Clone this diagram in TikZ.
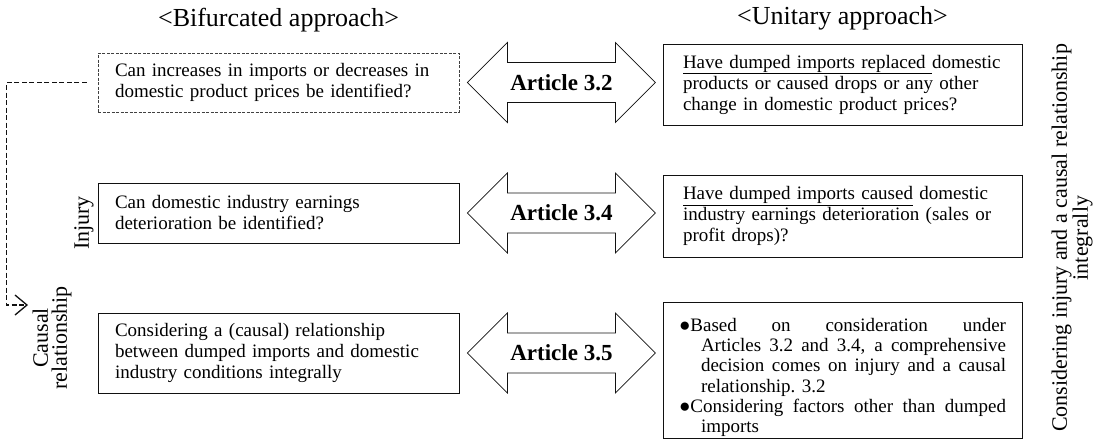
\documentclass[tikz,border=0pt]{standalone}
\usepackage{fontspec}
\setmainfont{Liberation Serif}
\usetikzlibrary{arrows.meta,positioning,calc}
\definecolor{Ink}{HTML}{111111}

\tikzset{
  dblarrow/.pic={
    \draw[line width=0.8pt, draw=Ink, fill=white] (-94,0) -- (-54,-40) -- (-54,-20) -- (54,-20) -- (54,-40)
      -- (94,0) -- (54,40) -- (54,20) -- (-54,20) -- (-54,40) -- cycle;
  }
}

\begin{document}
\begin{tikzpicture}[
    x=1pt, y=-1pt,
    qbox/.style={draw=Ink, line width=0.8pt, text width=327pt, inner xsep=17pt, align=left, font=\fontsize{19}{21}\selectfont},
    ubox/.style={draw=Ink, line width=0.8pt, text width=319pt, inner xsep=20pt, align=left, font=\fontsize{19}{21}\selectfont},
    title/.style={font=\fontsize{26}{28}\selectfont},
    tag/.style={rotate=90, align=center, font=\fontsize{22}{19}\selectfont},
    artlabel/.style={font=\bfseries\fontsize{23}{24}\selectfont},
    link/.style={dash pattern=on 5pt off 2.5pt, line width=1.3pt, draw=Ink, -{Straight Barb[length=12pt,width=20pt,line width=1.3pt]}}
  ]
    \useasboundingbox (0,0) rectangle (1103,440);

    % headings
    \node[title] (t1) at (278.5,20) {<Bifurcated approach>};
    \node[title] (t2) at (842.5,18) {<Unitary approach>};

    % bifurcated column
    \node[qbox, dash pattern=on 3pt off 1.5pt, draw=Ink!80, minimum height=59pt] (q1) at (278.5,82.5)
      {Can increases in imports or decreases in\\domestic product prices be identified?};
    \node[qbox, minimum height=60pt] (q2) at (278.5,213)
      {Can domestic industry earnings\\deterioration be identified?};
    \node[qbox, minimum height=80pt] (q3) at (278.5,353)
      {Considering a (causal) relationship\\between dumped imports and domestic\\industry conditions integrally};

    % unitary column
    \node[ubox, minimum height=81pt] (u1) at (842.5,84.5)
      {\underline{Have dumped imports replaced\ }domestic\\products or caused drops or any other\\change in domestic product prices?};
    \node[ubox, minimum height=82pt] (u2) at (842.5,216)
      {\underline{Have dumped imports caused} domestic\\industry earnings deterioration (sales or\\profit drops)?};
    \node[ubox, text width=327pt, inner xsep=16pt, inner ysep=0pt, align=justify, minimum height=136pt, font=\fontsize{19}{20.3}\selectfont] (u3) at (842.5,370)
      {\hangindent=22pt\hangafter=1 \rule{0pt}{28pt}●Based on consideration under\linebreak
       Articles 3.2 and 3.4, a comprehensive\linebreak
       decision comes on injury and a causal\linebreak
       relationship. 3.2\par
       \hangindent=22pt\hangafter=1 ●Considering factors other than dumped\linebreak
       imports\par};

    % article arrows
    \coordinate (m1) at ($(q1.east)+(102,0)$);
    \coordinate (m2) at ($(q2.east)+(102,0)$);
    \coordinate (m3) at ($(q3.east)+(102,0)$);
    \pic at (m1) {dblarrow};
    \pic at (m2) {dblarrow};
    \pic at (m3) {dblarrow};
    \node[artlabel] (a1) at (m1) {Article 3.2};
    \node[artlabel] (a2) at (m2) {Article 3.4};
    \node[artlabel] (a3) at (m3) {Article 3.5};

    % side tags
    \node[tag] (injury) at (84,223) {Injury};
    \node[tag] (causal) at (52,338) {Causal\\relationship};
    \node[tag] (whole) at (1072,238) {Considering injury and a causal relationship\\integrally};

    % dashed link to the causal step
    \coordinate (tip) at (28,305);
    \draw[link] ([xshift=-11pt]q1.west) -- ++(-80,0) |- (tip);
  \end{tikzpicture}
\end{document}
